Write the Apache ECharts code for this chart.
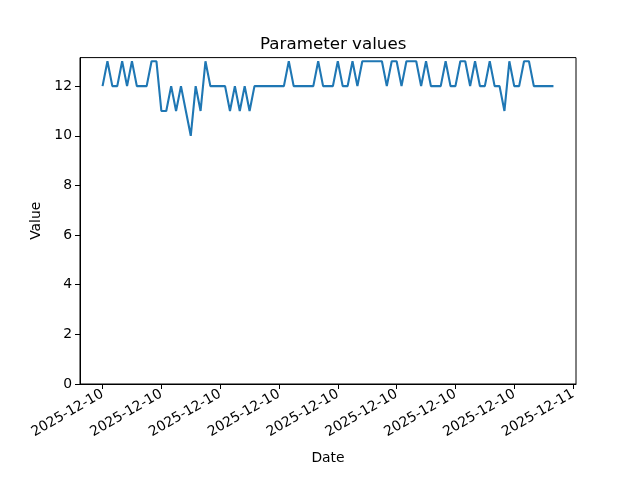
<!DOCTYPE html>
<html><head><meta charset="utf-8">
<script src="https://cdn.jsdelivr.net/npm/echarts@6/dist/echarts.min.js"></script>
<style>html,body{margin:0;padding:0;background:#fff}#c{width:640px;height:480px}</style>
</head><body><div id="c"></div>
<script>
const dateLabel = "2025-12-10";
const times = [
"00:00","00:15","00:30","00:45","01:00","01:15","01:30","01:45",
"02:00","02:15","02:30","02:45","03:00","03:15","03:30","03:45",
"04:00","04:15","04:30","04:45","05:00","05:15","05:30","05:45",
"06:00","06:15","06:30","06:45","07:00","07:15","07:30","07:45",
"08:00","08:15","08:30","08:45","09:00","09:15","09:30","09:45",
"10:00","10:15","10:30","10:45","11:00","11:15","11:30","11:45",
"12:00","12:15","12:30","12:45","13:00","13:15","13:30","13:45",
"14:00","14:15","14:30","14:45","15:00","15:15","15:30","15:45",
"16:00","16:15","16:30","16:45","17:00","17:15","17:30","17:45",
"18:00","18:15","18:30","18:45","19:00","19:15","19:30","19:45",
"20:00","20:15","20:30","20:45","21:00","21:15","21:30","21:45",
"22:00","22:15","22:30","22:45","23:00"];
const values = [
12,13,12,12,13,12,13,12,12,12,13,13,11,11,12,11,
12,11,10,12,11,13,12,12,12,12,11,12,11,12,11,12,
12,12,12,12,12,12,13,12,12,12,12,12,13,12,12,12,
13,12,12,13,12,13,13,13,13,13,12,13,13,12,13,13,
13,12,13,12,12,12,13,12,12,13,13,12,13,12,12,13,
12,12,11,13,12,12,13,13,12,12,12,12,12];
const xTickHours = [0,3,6,9,12,15,18,21,24];
const yTicks = [0,2,4,6,8,10,12];

function toHours(t){const p=t.split(':');return +p[0]+(+p[1])/60;}
const data = times.map((t,i)=>[toHours(t), values[i]]);
const font = 'DejaVu Sans';
const chart = echarts.init(document.getElementById('c'), null, {renderer:'canvas'});
chart.setOption({
  animation:false,
  title:{text:'Parameter values',left:255,top:31,
    textStyle:{fontFamily:font,fontSize:16.7,fontWeight:'normal',color:'#000'}},
  grid:{left:80,right:64,top:57.6,bottom:96,show:true,borderColor:'#000',borderWidth:1,backgroundColor:'transparent'},
  xAxis:{type:'value',min:-1.15,max:24.15,
    name:'Date',nameLocation:'middle',nameGap:67,
    nameTextStyle:{fontFamily:font,fontSize:13.9,color:'#000'},
    axisLine:{show:true,onZero:false,lineStyle:{color:'#000',width:1}},
    axisTick:{show:true,inside:false,length:5,lineStyle:{color:'#000'},customValues:xTickHours},
    axisLabel:{customValues:xTickHours,rotate:30,margin:9,fontFamily:font,fontSize:13.9,color:'#000',
      formatter:v=>{const d=new Date(Date.UTC(2025,11,10)+v*3600000);return d.toISOString().slice(0,10);}},
    splitLine:{show:false}},
  yAxis:{type:'value',min:0,max:13.15,
    name:'Value',nameLocation:'middle',nameGap:36,nameRotate:90,
    nameTextStyle:{fontFamily:font,fontSize:13.9,color:'#000'},
    axisLine:{show:true,onZero:false,lineStyle:{color:'#000',width:1}},
    axisTick:{show:true,length:5,lineStyle:{color:'#000'},customValues:yTicks},
    axisLabel:{customValues:yTicks,margin:8,fontFamily:font,fontSize:13.9,color:'#000'},
    splitLine:{show:false}},
  series:[{type:'line',data:data,showSymbol:false,symbol:'none',
    lineStyle:{color:'#1f77b4',width:2.1},itemStyle:{color:'#1f77b4'}}]
});
</script></body></html>
